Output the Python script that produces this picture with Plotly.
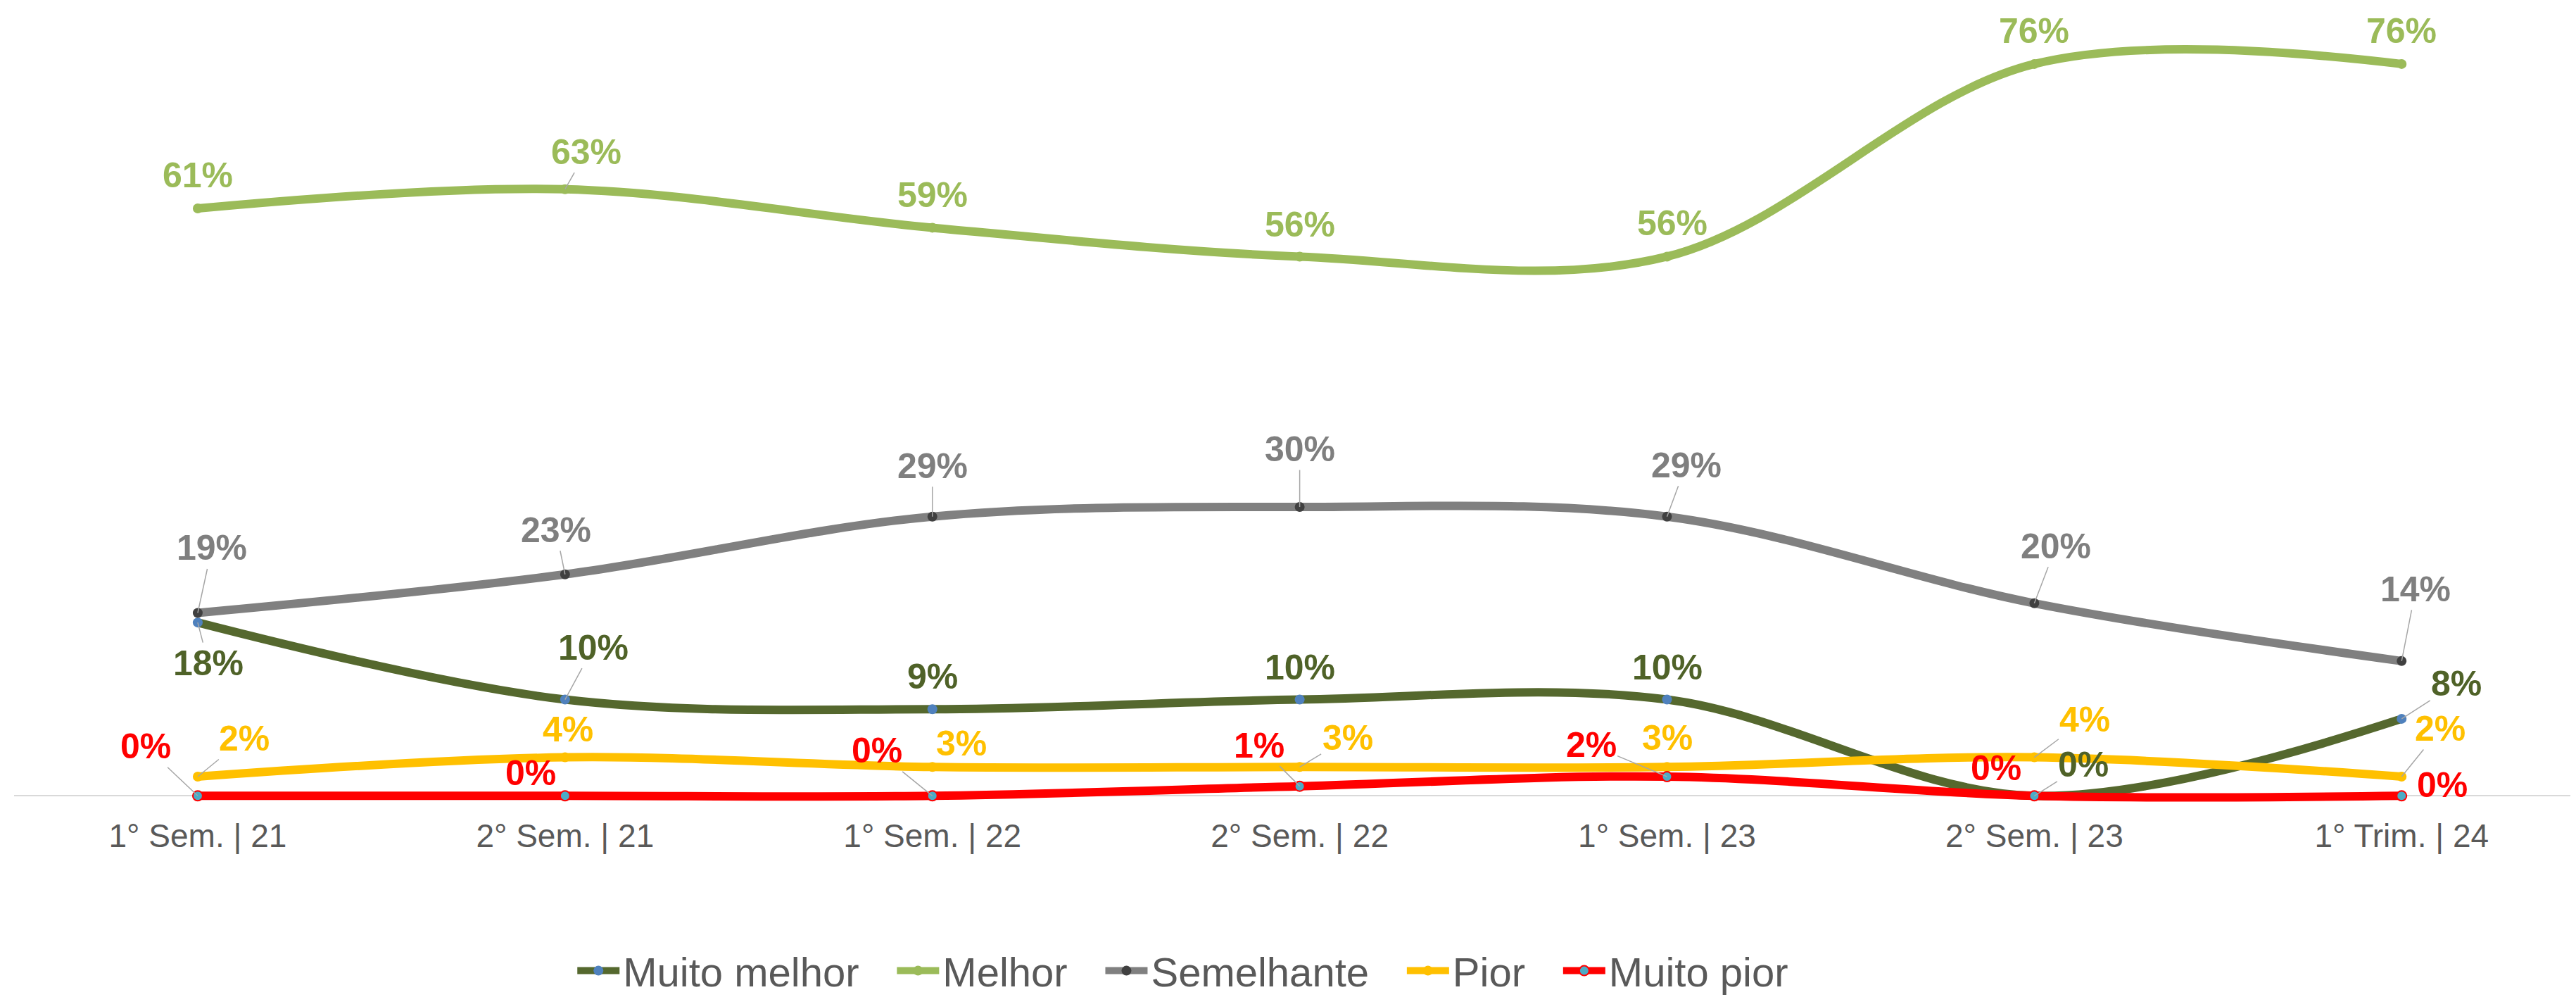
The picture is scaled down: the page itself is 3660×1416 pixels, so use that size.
import plotly.graph_objects as go

categories = ["1° Sem. | 21", "2° Sem. | 21", "1° Sem. | 22", "2° Sem. | 22",
              "1° Sem. | 23", "2° Sem. | 23", "1° Trim. | 24"]

muito_melhor = [18, 10, 9, 10, 10, 0, 8]
melhor = [61, 63, 59, 56, 56, 76, 76]
semelhante = [19, 23, 29, 30, 29, 20, 14]
pior = [2, 4, 3, 3, 3, 4, 2]
muito_pior = [0, 0, 0, 1, 2, 0, 0]

series_names = ["Muito melhor", "Melhor", "Semelhante", "Pior", "Muito pior"]

# styles
line_colors = ["#55682E", "#9BBB59", "#808080", "#FFC000", "#FF0000"]
marker_colors = ["#4F81BD", "#9BBB59", "#404040", "#FFC000", "#4BACC6"]
marker_line_colors = ["#4F81BD", "#9BBB59", "#404040", "#FFC000", "#FF0000"]
label_colors = ["#4F6228", "#9BBB59", "#7F7F7F", "#FFC000", "#FF0000"]

# label offsets in pixels (dx, dy) and whether a leader line is shown
label_offsets = [
    [(15, 58, 1), (40, -74, 1), (0, -46, 0), (0, -46, 0), (0, -46, 0), (70, -44, 1), (78, -50, 1)],
    [(0, -47, 0), (30, -53, 1), (0, -46, 0), (0, -45, 0), (7, -47, 0), (0, -47, 0), (0, -47, 0)],
    [(20, -92, 1), (-13, -63, 1), (0, -72, 1), (0, -82, 1), (27, -73, 1), (31, -81, 1), (20, -102, 1)],
    [(66, -54, 1), (4, -40, 0), (41, -33, 0), (68, -41, 1), (0, -41, 0), (72, -54, 1), (55, -68, 1)],
    [(-74, -70, 1), (-49, -32, 0), (-79, -64, 1), (-58, -58, 1), (-108, -45, 1), (-54, -39, 0), (58, -15, 0)],
]

all_series = [muito_melhor, melhor, semelhante, pior, muito_pior]
FONT = "Liberation Sans, Arial, sans-serif"
GAP = "\u00a0\u00a0\u2009"

fig = go.Figure()
for i, (name, vals) in enumerate(zip(series_names, all_series)):
    fig.add_trace(go.Scatter(
        x=categories, y=vals, name=name + (GAP if i < 4 else ""), mode="lines+markers",
        line=dict(color=line_colors[i], width=12, shape="spline", smoothing=1.0),
        marker=dict(color=marker_colors[i], size=14,
                    line=dict(color=marker_line_colors[i], width=2 if i == 4 else 0)),
        cliponaxis=False,
    ))

annotations = []
for i, vals in enumerate(all_series):
    for j, v in enumerate(vals):
        dx, dy, lead = label_offsets[i][j]
        annotations.append(dict(
            x=categories[j], y=v, xref="x", yref="y",
            text=f"{v}%", showarrow=True, ax=dx, ay=dy,
            arrowhead=0, arrowwidth=1.5, standoff=0,
            arrowcolor="#A6A6A6" if lead else "rgba(0,0,0,0)",
            font=dict(family=FONT, size=50, color=label_colors[i], weight="bold"),
        ))

fig.update_layout(
    width=3660, height=1416,
    paper_bgcolor="white", plot_bgcolor="white",
    margin=dict(l=12, r=0, t=20, b=1416 - 1146),
    font=dict(family=FONT, color="#595959"),
    annotations=annotations,
    showlegend=True,
    legend=dict(orientation="h", x=0.218, xanchor="left", y=-0.2105, yanchor="middle",
                font=dict(family=FONT, size=58, color="#595959"), itemwidth=60,
                bgcolor="rgba(0,0,0,0)"),
    xaxis=dict(type="category", range=[-0.5, 6.49], showgrid=False, showline=False,
               ticks="", tickfont=dict(family=FONT, size=46, color="#595959"),
               zeroline=False, ticklabelstandoff=12),
    yaxis=dict(range=[-1.0, 80.6], showgrid=False, showticklabels=False, zeroline=True,
               zerolinecolor="#D9D9D9", zerolinewidth=2, showline=False),
)

fig.write_html("out.html")
